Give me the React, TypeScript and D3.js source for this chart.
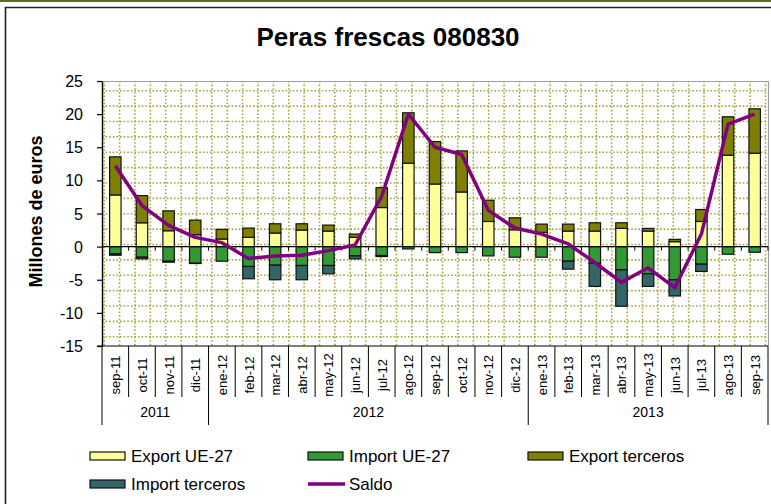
import React, { useEffect, useRef } from 'react';
import * as d3 from 'd3';

// Peras frescas 080830 - comercio mensual (millones de euros)
const MONTHS = [
  'sep-11', 'oct-11', 'nov-11', 'dic-11',
  'ene-12', 'feb-12', 'mar-12', 'abr-12', 'may-12', 'jun-12',
  'jul-12', 'ago-12', 'sep-12', 'oct-12', 'nov-12', 'dic-12',
  'ene-13', 'feb-13', 'mar-13', 'abr-13', 'may-13', 'jun-13',
  'jul-13', 'ago-13', 'sep-13',
];
const YEARS = [
  { label: '2011', from: 0, to: 4 },
  { label: '2012', from: 4, to: 16 },
  { label: '2013', from: 16, to: 25 },
];

const EXPORT_UE = [7.8, 3.6, 2.4, 1.8, 1.15, 1.4, 2.05, 2.5, 2.35, 1.4, 5.9, 12.6, 9.45, 8.25, 3.8, 2.55, 2.15, 2.35, 2.35, 2.75, 2.35, 0.75, 3.8, 13.8, 14.1];
const EXPORT_TERCEROS = [5.75, 4.1, 3.0, 2.2, 1.45, 1.4, 1.4, 0.95, 0.9, 0.5, 3.0, 7.6, 6.4, 6.2, 3.2, 1.8, 1.25, 1.05, 1.25, 0.85, 0.4, 0.35, 1.8, 5.8, 6.7];
const IMPORT_UE = [-1.1, -1.6, -2.2, -2.5, -2.2, -3.0, -2.8, -2.85, -2.85, -1.4, -1.35, -0.35, -0.9, -0.9, -1.4, -1.6, -1.6, -2.2, -2.5, -3.5, -4.1, -5.0, -2.65, -1.15, -0.85];
const IMPORT_TERCEROS = [-0.2, -0.25, -0.15, -0.05, 0, -1.85, -2.2, -2.15, -1.25, -0.45, -0.15, 0, 0, 0, 0, 0, 0, -1.2, -3.5, -5.5, -1.9, -2.45, -1.1, 0, 0];
const SALDO = [12.2, 6.2, 3.2, 1.4, 0.6, -1.8, -1.4, -1.3, -0.6, 0.25, 7.6, 20.0, 15.0, 13.9, 5.5, 2.8, 1.9, 0.4, -2.4, -5.4, -3.2, -6.2, 1.9, 18.5, 20.0];

const Y_TICKS = [-15, -10, -5, 0, 5, 10, 15, 20, 25];

const SERIES = [
  { name: 'Export UE-27', values: EXPORT_UE, color: '#FFFF99' },
  { name: 'Import UE-27', values: IMPORT_UE, color: '#339933' },
  { name: 'Export terceros', values: EXPORT_TERCEROS, color: '#808000' },
  { name: 'Import terceros', values: IMPORT_TERCEROS, color: '#336666' },
];

const W = 771;
const H = 504;
const FONT = '"Liberation Sans", Arial, sans-serif';

export default function App() {
  const ref = useRef<SVGSVGElement | null>(null);

  useEffect(() => {
    const svg = d3.select(ref.current);
    svg.selectAll('*').remove();

    const plot = { left: 102, right: 768, top: 81, bottom: 346 };

    const x = d3.scaleBand<string>()
      .domain(MONTHS)
      .range([plot.left, plot.right])
      .paddingInner(0.57)
      .paddingOuter(0.285);
    const step = x.step();
    const boundary = (i: number) => plot.left + i * step;

    const y = d3.scaleLinear().domain([-15, 25]).range([plot.bottom, plot.top]);

    svg.append('rect').attr('width', W).attr('height', H).attr('fill', '#fff');
    // outer frame
    svg.append('rect').attr('x', 0).attr('y', 0).attr('width', W).attr('height', 2).attr('fill', '#66662e');
    svg.append('path')
      .attr('d', `M5.5,${H} V7.5 H${W}`)
      .attr('fill', 'none')
      .attr('stroke', '#222')
      .attr('stroke-width', 1.6);

    // title
    svg.append('text')
      .attr('x', 388).attr('y', 46)
      .attr('text-anchor', 'middle')
      .attr('font-family', FONT)
      .attr('font-weight', 'bold')
      .attr('font-size', 26)
      .text('Peras frescas 080830');

    // patterned grid (dotted)
    const grid = svg.append('g');
    const gs = 15.38;
    for (let gy = 90.7; gy < plot.bottom; gy += gs) {
      grid.append('line')
        .attr('x1', plot.left).attr('x2', plot.right)
        .attr('y1', gy).attr('y2', gy)
        .attr('stroke', '#a6a640').attr('stroke-width', 1.6)
        .attr('stroke-dasharray', '1.6,2');
    }
    for (let gx = 104.2; gx < plot.right; gx += gs) {
      grid.append('line')
        .attr('x1', gx).attr('x2', gx)
        .attr('y1', plot.top).attr('y2', plot.bottom)
        .attr('stroke', '#a6a640').attr('stroke-width', 1.6)
        .attr('stroke-dasharray', '1.6,2');
    }
    // plot border top/right
    svg.append('path')
      .attr('d', `M${plot.left},${plot.top + 0.5} H${plot.right + 0.5} V${plot.bottom}`)
      .attr('fill', 'none').attr('stroke', '#a0a0a0').attr('stroke-width', 1.2);

    // stacked bars
    const bars = svg.append('g');
    MONTHS.forEach((m, i) => {
      const stacks = [
        { v0: 0, v1: EXPORT_UE[i], c: SERIES[0].color },
        { v0: EXPORT_UE[i], v1: EXPORT_UE[i] + EXPORT_TERCEROS[i], c: SERIES[2].color },
        { v0: 0, v1: IMPORT_UE[i], c: SERIES[1].color },
        { v0: IMPORT_UE[i], v1: IMPORT_UE[i] + IMPORT_TERCEROS[i], c: SERIES[3].color },
      ];
      stacks.forEach((s) => {
        if (Math.abs(s.v1 - s.v0) < 1e-6) return;
        const y0 = y(Math.max(s.v0, s.v1));
        const y1 = y(Math.min(s.v0, s.v1));
        bars.append('rect')
          .attr('x', x(m)!)
          .attr('width', x.bandwidth())
          .attr('y', y0)
          .attr('height', y1 - y0)
          .attr('fill', s.c)
          .attr('stroke', '#111')
          .attr('stroke-width', 1.2);
      });
    });

    // zero axis with ticks at category boundaries
    svg.append('line')
      .attr('x1', plot.left).attr('x2', plot.right)
      .attr('y1', y(0)).attr('y2', y(0))
      .attr('stroke', '#000').attr('stroke-width', 1.2);
    d3.range(1, MONTHS.length + 1).forEach((i) => {
      svg.append('line')
        .attr('x1', boundary(i)).attr('x2', boundary(i))
        .attr('y1', y(0)).attr('y2', y(0) + 4)
        .attr('stroke', '#000').attr('stroke-width', 1);
    });

    // saldo line
    const line = d3.line<number>()
      .x((_, i) => x(MONTHS[i])! + x.bandwidth() / 2)
      .y((d) => y(d));
    svg.append('path')
      .attr('d', line(SALDO)!)
      .attr('fill', 'none')
      .attr('stroke', '#800080')
      .attr('stroke-width', 3.5)
      .attr('stroke-linejoin', 'round');

    // y axis
    const yAxis = svg.append('g').attr('transform', `translate(${plot.left},0)`)
      .call(d3.axisLeft(y).tickValues(Y_TICKS).tickSize(5).tickSizeOuter(0)
        .tickFormat((d) => String(d)));
    yAxis.select('.domain').attr('stroke', '#000').attr('stroke-width', 1.4);
    yAxis.selectAll('.tick line').attr('stroke', '#000').attr('stroke-width', 1.2);
    yAxis.selectAll('.tick text')
      .attr('font-family', FONT).attr('font-size', 16).attr('fill', '#000')
      .attr('x', -19).attr('dy', '0.35em');

    svg.append('text')
      .attr('transform', `translate(42,${(plot.top + plot.bottom) / 2 - 2}) rotate(-90)`)
      .attr('text-anchor', 'middle')
      .attr('font-family', FONT).attr('font-weight', 'bold').attr('font-size', 18)
      .text('Millones de euros');

    // category axis
    const cat = svg.append('g');
    cat.append('line')
      .attr('x1', plot.left - 5).attr('x2', plot.right)
      .attr('y1', plot.bottom).attr('y2', plot.bottom)
      .attr('stroke', '#000').attr('stroke-width', 1.2);
    const yearEdges = new Set(YEARS.flatMap((g) => [g.from, g.to]));
    d3.range(0, MONTHS.length + 1).forEach((i) => {
      cat.append('line')
        .attr('x1', boundary(i)).attr('x2', boundary(i))
        .attr('y1', plot.bottom).attr('y2', yearEdges.has(i) ? 425 : 397)
        .attr('stroke', '#000').attr('stroke-width', 1);
    });
    MONTHS.forEach((m) => {
      cat.append('text')
        .attr('transform', `translate(${x(m)! + x.bandwidth() / 2 + 5},375) rotate(-90)`)
        .attr('text-anchor', 'middle')
        .attr('font-family', FONT).attr('font-size', 13)
        .text(m);
    });
    YEARS.forEach((g) => {
      cat.append('text')
        .attr('x', (boundary(g.from) + boundary(g.to)) / 2)
        .attr('y', 417)
        .attr('text-anchor', 'middle')
        .attr('font-family', FONT).attr('font-size', 14)
        .text(g.label);
    });

    // legend
    const legendItems = [
      { ...SERIES[0], x: 90, y: 456, kind: 'rect' },
      { ...SERIES[1], x: 308, y: 456, kind: 'rect' },
      { ...SERIES[2], x: 528, y: 456, kind: 'rect' },
      { ...SERIES[3], x: 90, y: 484, kind: 'rect' },
      { name: 'Saldo', color: '#800080', x: 308, y: 484, kind: 'line' },
    ];
    const lg = svg.append('g');
    legendItems.forEach((d) => {
      if (d.kind === 'rect') {
        lg.append('rect')
          .attr('x', d.x).attr('y', d.y - 4).attr('width', 35).attr('height', 8)
          .attr('fill', d.color).attr('stroke', '#111').attr('stroke-width', 1.2);
      } else {
        lg.append('line')
          .attr('x1', d.x).attr('x2', d.x + 37).attr('y1', d.y).attr('y2', d.y)
          .attr('stroke', d.color).attr('stroke-width', 3.5);
      }
      lg.append('text')
        .attr('x', d.x + 41).attr('y', d.y + 6)
        .attr('font-family', FONT).attr('font-size', 17)
        .text(d.name);
    });
  }, []);

  return (
    <svg
      ref={ref}
      width={W}
      height={H}
      style={{ position: 'absolute', left: 0, top: 0, display: 'block' }}
    />
  );
}
